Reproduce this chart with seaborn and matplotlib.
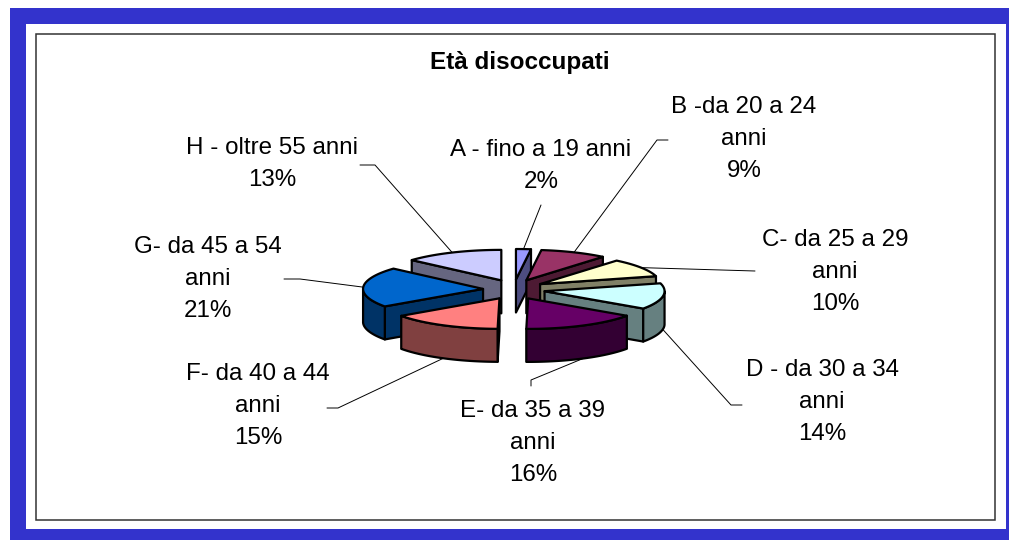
import numpy as np
import matplotlib
matplotlib.use('Agg')
import matplotlib.pyplot as plt
from matplotlib.patches import Polygon, Rectangle
import seaborn as sns

# ── Chart data ───────────────────────────────────────────────
title = 'Età disoccupati'
labels = [
    'A - fino a 19 anni\n2%',
    'B -da 20 a 24\nanni\n9%',
    'C- da 25 a 29\nanni\n10%',
    'D - da 30 a 34\nanni\n14%',
    'E- da 35 a 39\nanni\n16%',
    'F- da 40 a 44\nanni\n15%',
    'G- da 45 a 54\nanni\n21%',
    'H - oltre 55 anni\n13%',
]
# unrounded shares estimated from the slice edges, they round to the printed %
values = [2.0, 9.0, 9.8, 13.8, 15.6, 15.0, 21.3, 13.4]
top_colors = ['#9999FF', '#993366', '#FFFFCC', '#CCFFFF', '#660066', '#FF8080', '#0066CC', '#CCCCFF']
side_colors = ['#4D4D80', '#4D1A33', '#808066', '#668080', '#330033', '#804040', '#003366', '#666680']

# label centre and where the leader leaves the label (pixels)
label_pos = [(541, 166), (744, 139), (835, 272), (822, 402), (533, 443), (258, 406), (208, 279), (272, 164)]
leader_start = [
    [(541, 205)],
    [(668, 140), (657, 140)],
    [(755, 271)],
    [(742, 405), (731, 405)],
    [(531, 386), (531, 380)],
    [(327, 408), (338, 408)],
    [(284, 279), (300, 279)],
    [(360, 165), (375, 165)],
]

# painter's order, back to front
draw_order = [7, 0, 1, 2, 6, 3, 5, 4]

# ── Pie geometry (pixels) ────────────────────────────────────
CX, CY = 514, 289.5
RX, RY = 120, 30.5
EX, EY = 31, 10
DEPTH = 33
EDGE = 1.6

sns.set_theme(style='white')
plt.rcParams['font.family'] = ['Liberation Sans', 'DejaVu Sans']

fig = plt.figure(figsize=(10.09, 5.40), dpi=100)
ax = fig.add_axes([0, 0, 1, 1])
ax.set_xlim(0, 1009)
ax.set_ylim(540, 0)
ax.axis('off')

# frame
ax.add_patch(Rectangle((10, 8), 999, 532, fc='#3333CC', ec='none'))
ax.add_patch(Rectangle((26, 24), 980, 505, fc='white', ec='none'))
ax.add_patch(Rectangle((36, 34), 959, 486, fc='white', ec='#333333', lw=1.1))

ax.text(520, 62, title, ha='center', va='center', fontsize=17.5, fontweight='bold', color='black')

# slice angles, clockwise from 12 o'clock
edges = np.cumsum([0] + values) / sum(values) * 2 * np.pi


def slice_outline(i):
    mid = (edges[i] + edges[i + 1]) / 2
    tx = CX + EX * np.sin(mid)
    ty = CY - EY * np.cos(mid)
    th = np.linspace(edges[i], edges[i + 1], 60)
    arc = np.column_stack([tx + RX * np.sin(th), ty - RY * np.cos(th)])
    return np.array([tx, ty]), th, arc, mid


def wall(a, b, color):
    pts = [a, b, b + [0, DEPTH], a + [0, DEPTH]]
    ax.add_patch(Polygon(pts, closed=True, fc=color, ec='black', lw=EDGE, joinstyle='round'))


for i in draw_order:
    tip, th, arc, mid = slice_outline(i)
    # the two radial walls, each only if it faces the viewer
    start, end = arc[0], arc[-1]
    if (start[0] - tip[0]) < 0:
        wall(tip, start, side_colors[i])
    if (end[0] - tip[0]) > 0:
        wall(end, tip, side_colors[i])
    # rim, only the part on the near side of the ellipse
    front = arc[np.cos(th) <= 0]
    if len(front) > 1:
        rim = np.vstack([front, front[::-1] + [0, DEPTH]])
        ax.add_patch(Polygon(rim, closed=True, fc=side_colors[i], ec='black', lw=EDGE, joinstyle='round'))
    ax.add_patch(Polygon(np.vstack([tip, arc]), closed=True, fc=top_colors[i], ec='black', lw=EDGE, joinstyle='round'))

# labels and leaders
for i, (lab, pos) in enumerate(zip(labels, label_pos)):
    ax.text(pos[0], pos[1], lab, ha='center', va='center', fontsize=17.4, color='black', linespacing=1.57)
    tip, th, arc, mid = slice_outline(i)
    anchor = [tip[0] + RX * np.sin(mid), tip[1] - RY * np.cos(mid)]
    if np.cos(mid) < 0:
        anchor[1] += DEPTH
    pts = leader_start[i] + [tuple(anchor)]
    ax.plot([p[0] for p in pts], [p[1] for p in pts], color='black', lw=0.7)

plt.savefig('out.png', dpi=100)
plt.close()
